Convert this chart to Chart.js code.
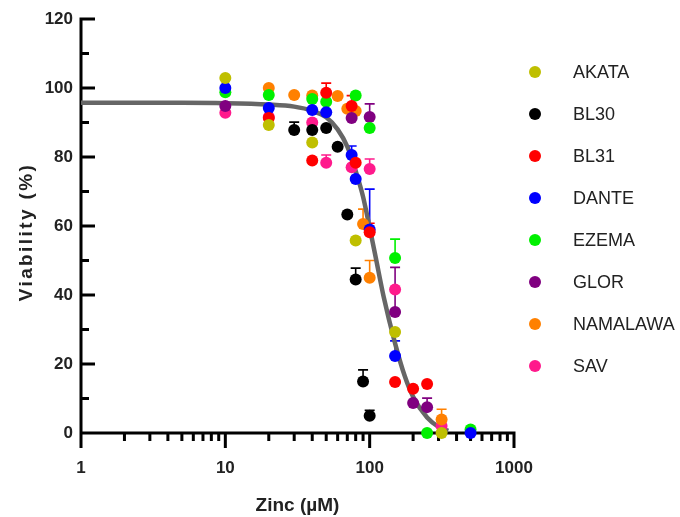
<!DOCTYPE html>
<html>
<head>
<meta charset="utf-8">
<script src="https://cdn.jsdelivr.net/npm/chart.js@4/dist/chart.umd.min.js"></script>
<style>
	body { margin: 0; background: #fff; }
	#wrap { width: 680px; height: 517px; }
</style>
</head>
<body>
<div id="wrap"><canvas id="chart" width="680" height="517"></canvas></div>
<script>
// strains and colours, same order as the legend
const strainNames = ['AKATA', 'BL30', 'BL31', 'DANTE', 'EZEMA', 'GLOR', 'NAMALAWA', 'SAV'];
const strainColors = ['#bfbf00', '#000000', '#ff0000', '#0000ff', '#00f000', '#800080', '#ff8000', '#ff1a8c'];

// zinc (uM), viability (%), upper error
const akataX = [10, 20, 40, 80, 150, 315];
const akataY = [102.9, 89.3, 84.2, 55.8, 29.3, 0];
const akataErr = [0, 0, 0, 0, 0, 0];

const bl30X = [30, 40, 50, 60, 70, 80, 90, 100];
const bl30Y = [87.8, 87.8, 88.4, 83, 63.3, 44.5, 14.9, 5];
const bl30Err = [2.3, 0, 0, 0, 0, 3.3, 3.4, 1.6];

const bl31X = [20, 40, 50, 75, 80, 100, 150, 200, 250];
const bl31Y = [91.3, 79, 98.6, 94.8, 78.3, 58.2, 14.8, 12.8, 14.2];
const bl31Err = [0, 0, 2.8, 3, 0, 2.6, 0, 0, 0];

const danteX = [10, 20, 40, 50, 75, 80, 100, 150, 500];
const danteY = [100, 94.2, 93.6, 93, 80.6, 73.6, 59, 22.3, 0];
const danteErr = [0, 0, 4, 0, 2.6, 0, 11.7, 4.4, 0];

const ezemaX = [10, 20, 40, 50, 80, 100, 150, 250, 500];
const ezemaY = [98.8, 98, 96.8, 96, 97.8, 88.4, 50.7, 0, 1];
const ezemaErr = [0, 0, 0, 0, 0, 0, 5.5, 0, 0];

const glorX = [10, 75, 100, 150, 200, 250];
const glorY = [94.8, 91.3, 91.6, 35.1, 8.7, 7.5];
const glorErr = [0, 0, 3.8, 12.9, 0, 2.6];

const namalawaX = [20, 30, 40, 60, 70, 80, 90, 100, 315];
const namalawaY = [100, 98, 97.8, 97.7, 94, 93.3, 60.6, 45, 3.9];
const namalawaErr = [0, 0, 0, 0, 0, 0, 4.3, 5, 3];

const savX = [10, 20, 40, 50, 75, 100, 150, 315];
const savY = [92.8, 91.6, 90, 78.3, 77, 76.5, 41.6, 2];
const savErr = [0, 0, 0, 2.3, 0, 2.9, 0, 0];

// fitted curve
const curveX = [1, 5, 10, 20, 30, 40, 50, 60, 70, 80, 90, 100, 110, 125, 150, 175, 200, 250, 300, 350];
const curveY = [95.7, 95.7, 95.6, 95.2, 94.6, 93.4, 91.5, 88, 83, 76, 68.5, 59.5, 51, 39.5, 26, 16.5, 10.5, 4.5, 1.8, 0.6];

const yTicks = [0, 20, 40, 60, 80, 100, 120];
const xDecades = [1, 10, 100, 1000];

const allX = [akataX, bl30X, bl31X, danteX, ezemaX, glorX, namalawaX, savX];
const allY = [akataY, bl30Y, bl31Y, danteY, ezemaY, glorY, namalawaY, savY];
const allErr = [akataErr, bl30Err, bl31Err, danteErr, ezemaErr, glorErr, namalawaErr, savErr];

const FONT = "'Liberation Sans', Arial, sans-serif";

function toPoints(xs, ys) {
	return xs.map((x, i) => ({ x: x, y: ys[i] }));
}

let datasets = strainNames.map((name, i) => ({
	label: name,
	data: toPoints(allX[i], allY[i]),
	errors: allErr[i],
	backgroundColor: strainColors[i],
	borderWidth: 0,
	pointRadius: 6,
	pointHoverRadius: 6,
	showLine: false,
	clip: false,
	order: i
}));

datasets.push({
	type: 'line',
	label: 'fit',
	data: toPoints(curveX, curveY),
	borderColor: '#666666',
	borderWidth: 4.5,
	pointRadius: 0,
	cubicInterpolationMode: 'monotone',
	fill: false,
	clip: false,
	order: 20
});

// axis lines and ticks like the original (y ticks inward, x ticks down)
const axisPlugin = {
	id: 'axisPlugin',
	beforeDatasetsDraw(chart) {
		const ctx = chart.ctx;
		const xs = chart.scales.x, ys = chart.scales.y;
		const x0 = xs.getPixelForValue(1), x1 = xs.getPixelForValue(1000);
		const yb = ys.getPixelForValue(0), yt = ys.getPixelForValue(120);
		ctx.save();
		ctx.strokeStyle = '#000';
		ctx.lineWidth = 3;
		ctx.beginPath();
		ctx.moveTo(x0, yt - 1.5);
		ctx.lineTo(x0, yb);
		ctx.lineTo(x1 + 1.5, yb);
		for (let v = 10; v <= 120; v += 10) {
			let p = ys.getPixelForValue(v);
			ctx.moveTo(x0, p);
			ctx.lineTo(x0 + (v % 20 === 0 ? 14 : 8), p);
		}
		for (let d = 1; d < 1000; d *= 10) {
			for (let m = 1; m < 10; m++) {
				let p = xs.getPixelForValue(d * m);
				ctx.moveTo(p, yb);
				ctx.lineTo(p, yb + (m === 1 ? 15 : 8));
			}
		}
		ctx.moveTo(x1, yb);
		ctx.lineTo(x1, yb + 15);
		ctx.stroke();

		// error bars (upper only, with cap)
		ctx.lineWidth = 1.6;
		chart.data.datasets.forEach((ds, di) => {
			if (!ds.errors) return;
			const meta = chart.getDatasetMeta(di);
			ds.errors.forEach((e, i) => {
				if (!e) return;
				const pt = meta.data[i];
				const top = ys.getPixelForValue(ds.data[i].y + e);
				ctx.strokeStyle = ds.backgroundColor;
				ctx.beginPath();
				ctx.moveTo(pt.x, pt.y);
				ctx.lineTo(pt.x, top);
				ctx.moveTo(pt.x - 5, top);
				ctx.lineTo(pt.x + 5, top);
				ctx.stroke();
			});
		});
		ctx.restore();
	}
};

// legend on the right, and the spaced-out y title
const legendPlugin = {
	id: 'legendPlugin',
	afterDraw(chart) {
		const ctx = chart.ctx;
		ctx.save();
		ctx.font = '18px ' + FONT;
		ctx.textBaseline = 'middle';
		strainNames.forEach((name, i) => {
			let y = 72 + i * 42;
			ctx.fillStyle = strainColors[i];
			ctx.beginPath();
			ctx.arc(535, y, 6, 0, Math.PI * 2);
			ctx.fill();
			ctx.fillStyle = '#222';
			ctx.fillText(name, 573, y + 1);
		});

		ctx.translate(27, 232);
		ctx.rotate(-Math.PI / 2);
		ctx.font = 'bold 19px ' + FONT;
		ctx.letterSpacing = '2.4px';
		ctx.textAlign = 'center';
		ctx.fillStyle = '#222';
		ctx.fillText('Viability (%)', 0, 0);
		ctx.restore();
	}
};

new Chart(document.getElementById('chart').getContext('2d'), {
	type: 'scatter',
	data: { datasets: datasets },
	options: {
		responsive: false,
		animation: false,
		layout: { padding: { top: 19, right: 166, left: 0, bottom: 0 } },
		plugins: {
			legend: { display: false },
			tooltip: { enabled: false }
		},
		scales: {
			x: {
				type: 'logarithmic',
				min: 1,
				max: 1000,
				grid: { display: false },
				border: { display: false },
				afterFit: function(scale) { scale.height = 84; },
				ticks: {
					autoSkip: false,
					maxRotation: 0,
					padding: 17,
					color: '#222',
					font: { family: FONT, size: 17, weight: 'bold' },
					callback: function(value) {
						return xDecades.includes(value) ? String(value) : '';
					}
				},
				title: {
					display: true,
					text: 'Zinc (µM)',
					color: '#222',
					font: { family: FONT, size: 19, weight: 'bold' },
					padding: { top: 0, bottom: 0 }
				}
			},
			y: {
				min: 0,
				max: 120,
				grid: { display: false },
				border: { display: false },
				afterFit: function(scale) { scale.width = 81; },
				afterBuildTicks: function(scale) {
					scale.ticks = yTicks.map(v => ({ value: v }));
				},
				ticks: {
					padding: 0,
					color: '#222',
					font: { family: FONT, size: 17, weight: 'bold' }
				}
			}
		}
	},
	plugins: [axisPlugin, legendPlugin]
});
</script>
</body>
</html>
